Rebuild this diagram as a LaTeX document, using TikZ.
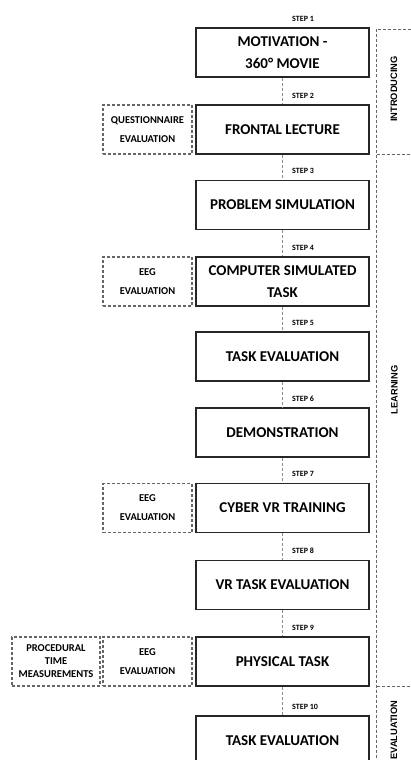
\documentclass[tikz,border=0pt]{standalone}
\usepackage{fontspec}
\setmainfont{Carlito}
\newfontfamily\phasefont{Liberation Sans}
\begin{document}
\begin{tikzpicture}[x=1pt,y=-1pt,
  stepbox/.style={draw=black!85, line width=1.6pt, minimum width=173pt,
    minimum height=49pt, inner sep=0pt, align=center,
    font=\bfseries\fontsize{15}{22}\selectfont},
  sidebox/.style={draw=black!60, line width=1.1pt, dash pattern=on 3pt off 2pt,
    minimum width=89pt, minimum height=49pt, inner sep=0pt, align=center,
    font=\bfseries\fontsize{10.5}{19}\selectfont},
  procbox/.style={sidebox, minimum width=88pt,
    font=\bfseries\fontsize{10.5}{13}\selectfont},
  steplabel/.style={anchor=base west, inner sep=0pt,
    font=\bfseries\fontsize{8}{9}\selectfont},
  link/.style={draw=black!45, line width=1pt, dash pattern=on 3pt off 2pt},
  bracket/.style={draw=black!60, line width=0.8pt, dash pattern=on 3pt off 2pt},
  phase/.style={rotate=90, inner sep=0pt,
    font=\phasefont\bfseries\fontsize{9.3}{10}\selectfont}]
\useasboundingbox (0,0) rectangle (411,760);
\clip (0,0) rectangle (411,760);

% main sequence of steps
\node[stepbox] (s1)  at (282.5, 52.5)  {MOTIVATION -\\360° MOVIE};
\node[stepbox] (s2)  at (282.5, 129.5) {FRONTAL LECTURE};
\node[stepbox] (s3)  at (282.5, 205)   {PROBLEM SIMULATION};
\node[stepbox] (s4)  at (282.5, 281.5) {COMPUTER SIMULATED\\TASK};
\node[stepbox] (s5)  at (282.5, 356.5) {TASK EVALUATION};
\node[stepbox] (s6)  at (282.5, 432.5) {DEMONSTRATION};
\node[stepbox] (s7)  at (282.5, 508)   {CYBER VR TRAINING};
\node[stepbox] (s8)  at (282.5, 585)   {VR TASK EVALUATION};
\node[stepbox] (s9)  at (282.5, 661.5) {PHYSICAL TASK};
\node[stepbox] (s10) at (282.5, 740.5) {TASK EVALUATION};

% step captions above each box
\foreach \i in {1,...,10}{
  \node[steplabel] (l\i) at ([xshift=9.5pt,yshift=6pt]s\i.north) {STEP \i};
}

% dashed links between consecutive steps
\foreach \i/\j in {1/2,2/3,3/4,4/5,5/6,6/7,7/8,8/9,9/10}{
  \draw[link] (s\i.south) -- (s\j.north);
}

% measurement boxes beside steps
\node[sidebox] (q2) at (147.5, 129.5) {QUESTIONNAIRE\\EVALUATION};
\node[sidebox] (e4) at (147.5, 281.5) {EEG\\EVALUATION};
\node[sidebox] (e7) at (147.5, 508)   {EEG\\EVALUATION};
\node[sidebox] (e9) at (147.5, 661.5) {EEG\\EVALUATION};
\node[procbox] (p9) at (56, 661.5)    {PROCEDURAL\\TIME\\MEASUREMENTS};

% phase bracket on the right
\coordinate (btop) at (376.5, 29);
\coordinate (bbot) at (376.5, 760);
\draw[bracket] (411, 29) -- (btop) -- (bbot);
\draw[bracket] (376.5, 154) -- (411, 154);
\draw[bracket] (376.5, 686) -- (411, 686);
\node[phase] (ph1) at (394, 89)  {INTRODUCING};
\node[phase] (ph2) at (394.5, 390) {LEARNING};
\node[phase] (ph3) at (394, 730) {EVALUATION};
\end{tikzpicture}
\end{document}
